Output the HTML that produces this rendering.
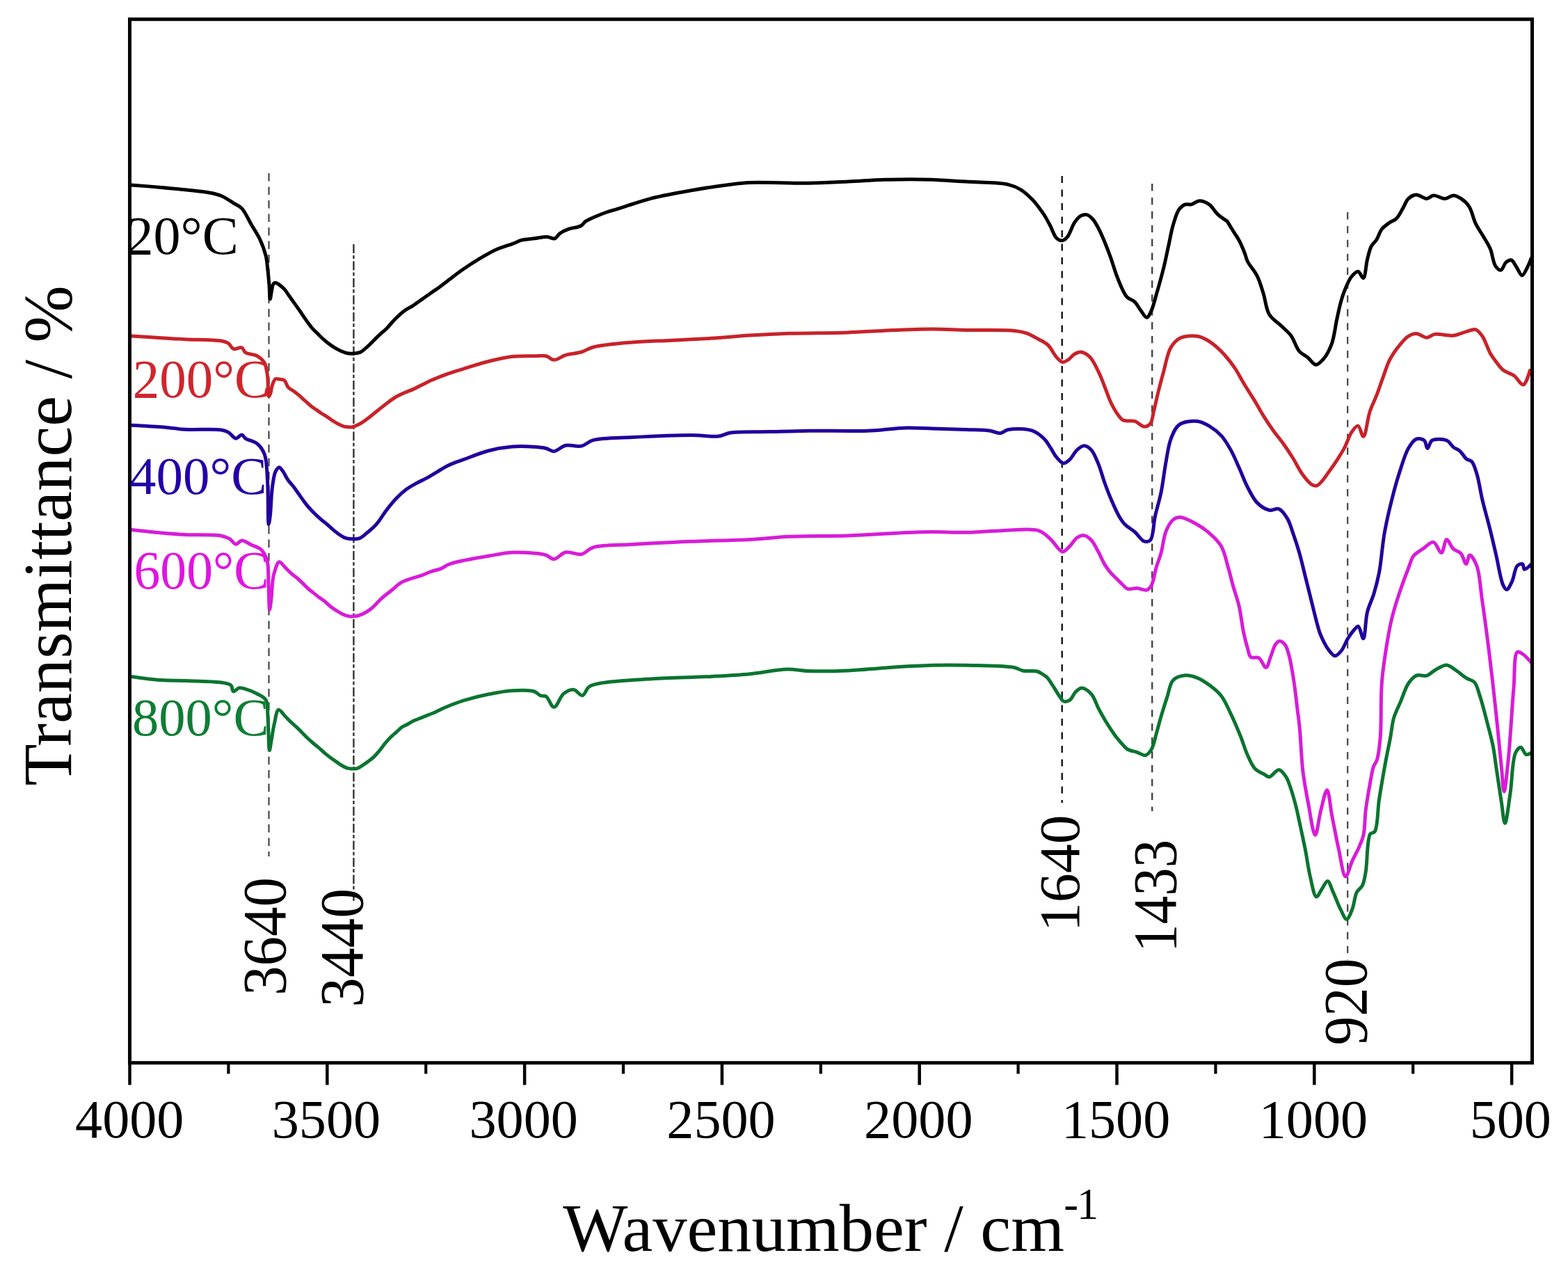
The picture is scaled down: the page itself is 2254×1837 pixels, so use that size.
<!DOCTYPE html>
<html><head><meta charset="utf-8"><title>FTIR spectra</title>
<style>html,body{margin:0;padding:0;background:#fff;} svg{display:block;}</style>
</head><body>
<svg width="2254" height="1837" viewBox="0 0 2254 1837">
<rect x="0" y="0" width="2254" height="1837" fill="#ffffff"/>
<line x1="386.5" y1="249" x2="386.5" y2="1231" stroke="#444" stroke-width="2.2" stroke-dasharray="11.5 8"/>
<line x1="508.4" y1="351" x2="508.4" y2="1296" stroke="#333" stroke-width="2.4" stroke-dasharray="13 3 5 3.5"/>
<line x1="1526.7" y1="253" x2="1526.7" y2="1154" stroke="#111" stroke-width="2.4" stroke-dasharray="10 9.5"/>
<line x1="1656.2" y1="264" x2="1656.2" y2="1166" stroke="#444" stroke-width="2.4" stroke-dasharray="10.4 9.5"/>
<line x1="1937.2" y1="305" x2="1937.2" y2="1380" stroke="#444" stroke-width="2.2" stroke-dasharray="10.4 9.5"/>
<path d="M188.6,265.9 C188.6,265.9 218.2,268.2 231.8,269.4 C244.0,270.5 254.9,271.5 266.4,272.8 C277.9,274.1 291.5,275.2 301.0,277.0 C307.7,278.3 312.4,279.2 318.0,281.5 C324.0,284.0 330.2,288.6 335.5,291.8 C339.9,294.5 343.9,295.7 347.6,299.6 C352.7,305.0 357.0,315.4 361.4,323.0 C365.6,330.1 370.1,336.4 373.5,343.7 C377.0,351.3 380.3,360.2 382.2,367.9 C383.8,374.5 384.0,380.2 384.8,386.9 C385.6,394.2 386.4,402.6 387.0,410.0 C387.6,416.9 387.6,430.0 388.3,430.0 C388.9,430.0 389.7,421.8 390.5,418.0 C391.3,414.5 391.6,409.8 393.0,408.0 C393.8,407.0 394.7,406.4 396.0,406.5 C398.8,406.7 405.6,412.4 408.8,415.7 C411.4,418.3 412.7,421.1 414.6,423.8 C416.5,426.5 418.4,429.1 420.3,431.8 C422.2,434.5 424.2,437.2 426.1,439.9 C428.0,442.6 429.9,445.2 431.8,448.0 C433.7,450.8 435.6,453.8 437.6,456.6 C439.5,459.4 441.5,462.1 443.4,464.7 C445.3,467.3 447.1,469.9 449.1,472.2 C451.0,474.3 452.9,475.9 454.9,477.9 C457.2,480.1 459.6,482.8 462.0,485.0 C464.3,487.2 466.3,489.0 469.1,491.2 C472.9,494.2 478.2,498.2 482.9,500.9 C487.4,503.5 492.7,505.9 496.8,507.1 C499.8,508.0 502.0,508.3 505.0,508.3 C508.8,508.3 513.7,508.1 517.7,506.4 C522.2,504.4 526.2,500.0 530.3,496.3 C534.6,492.4 538.7,487.7 543.0,483.6 C547.2,479.6 551.6,476.3 555.7,472.2 C560.0,467.9 564.0,462.6 568.3,458.3 C572.4,454.2 576.6,450.1 581.0,446.9 C585.1,443.9 589.5,442.0 593.7,439.3 C598.0,436.5 602.2,433.4 606.4,430.4 C610.6,427.4 614.8,424.4 619.0,421.5 C623.2,418.5 627.5,415.8 631.7,412.7 C636.1,409.5 640.1,406.2 645.0,402.5 C650.8,398.1 657.5,392.8 664.4,388.0 C672.0,382.7 680.6,377.0 688.8,372.1 C696.9,367.3 705.0,362.4 713.3,358.7 C721.3,355.1 731.0,352.6 737.7,350.1 C742.5,348.3 745.3,346.4 749.9,345.2 C755.3,343.8 762.1,343.6 768.2,342.8 C774.3,342.0 781.2,340.2 786.5,340.4 C790.6,340.6 794.4,343.7 797.5,342.8 C800.5,341.9 801.9,337.6 804.8,335.5 C808.2,333.1 812.4,331.1 817.0,329.4 C822.4,327.4 831.1,327.0 835.4,324.5 C838.3,322.8 838.9,320.2 841.5,318.4 C844.7,316.1 849.2,314.3 853.7,312.3 C859.1,309.9 866.5,306.9 872.0,305.0 C876.4,303.4 879.9,302.6 884.2,301.3 C889.1,299.8 893.6,298.4 900.0,296.4 C909.8,293.4 923.4,288.4 937.2,284.9 C953.9,280.7 974.7,277.0 993.5,273.7 C1012.3,270.4 1034.3,267.1 1049.9,265.2 C1060.9,263.8 1066.1,262.9 1078.0,262.4 C1098.6,261.5 1137.2,263.6 1162.5,263.2 C1183.2,262.9 1200.1,261.8 1218.9,261.0 C1237.7,260.2 1255.8,258.7 1275.2,258.2 C1296.0,257.7 1326.1,257.8 1340.0,258.2 C1346.6,258.4 1348.7,258.7 1354.6,259.0 C1363.6,259.5 1377.5,260.5 1389.0,261.1 C1400.5,261.7 1413.0,261.7 1423.7,262.5 C1433.0,263.2 1441.9,263.5 1449.6,265.4 C1456.1,267.0 1461.4,269.0 1466.9,272.3 C1473.0,276.0 1479.6,282.3 1484.2,287.0 C1487.8,290.6 1490.0,293.7 1492.8,297.4 C1495.7,301.2 1498.6,305.1 1501.4,309.5 C1504.4,314.3 1507.2,319.7 1510.0,325.0 C1512.9,330.6 1515.2,338.9 1518.7,342.3 C1521.0,344.5 1524.0,346.0 1526.5,345.8 C1529.2,345.6 1531.9,343.4 1534.3,340.6 C1538.1,336.3 1540.9,325.3 1544.6,319.9 C1547.4,315.9 1550.1,312.2 1553.3,310.4 C1556.0,308.9 1559.2,308.0 1562.0,308.6 C1565.0,309.2 1568.0,311.9 1570.6,314.7 C1573.9,318.2 1576.5,323.4 1579.2,328.5 C1582.3,334.2 1585.0,340.9 1587.8,347.5 C1590.8,354.6 1593.7,362.2 1596.5,370.0 C1599.5,378.3 1602.1,387.8 1605.1,395.9 C1607.9,403.2 1610.9,411.0 1613.8,416.6 C1615.9,420.7 1617.2,424.1 1620.0,427.0 C1622.9,430.0 1627.9,430.9 1631.1,433.9 C1634.5,437.1 1636.7,442.2 1639.7,446.0 C1642.5,449.7 1645.8,456.5 1648.4,456.4 C1650.9,456.3 1653.3,450.3 1655.3,446.0 C1658.1,440.1 1659.7,432.0 1662.2,423.5 C1665.4,412.5 1669.6,397.6 1672.6,385.5 C1675.3,374.6 1677.2,364.8 1679.5,354.4 C1681.8,344.0 1683.6,332.7 1686.4,323.3 C1688.9,315.1 1691.3,305.9 1695.0,300.8 C1697.5,297.4 1700.6,295.0 1703.7,293.9 C1706.4,293.0 1709.3,294.5 1712.3,293.9 C1716.1,293.1 1720.2,288.9 1724.4,288.8 C1728.8,288.7 1734.1,291.0 1738.2,293.9 C1742.8,297.1 1745.9,303.7 1750.3,307.8 C1754.6,311.8 1764.2,318.1 1764.2,318.1 C1764.2,318.1 1764.2,318.1 1764.2,318.1 C1764.2,318.1 1768.8,325.8 1771.4,330.0 C1774.4,334.9 1778.4,340.4 1781.4,346.0 C1784.4,351.7 1787.2,358.6 1789.3,364.0 C1791.0,368.4 1791.3,371.6 1793.5,376.0 C1796.5,382.1 1803.3,389.0 1807.0,396.4 C1810.9,404.1 1813.2,412.6 1816.0,421.4 C1819.1,431.0 1819.7,443.9 1824.6,452.0 C1828.8,459.1 1836.5,463.2 1841.9,468.5 C1846.8,473.3 1851.6,476.8 1855.7,482.3 C1860.4,488.6 1863.1,499.5 1867.8,505.0 C1871.4,509.2 1876.1,510.8 1880.0,514.0 C1883.9,517.2 1887.5,524.0 1891.4,524.2 C1895.1,524.4 1899.4,519.6 1902.8,515.6 C1907.2,510.5 1911.2,502.9 1914.2,494.7 C1918.0,484.5 1919.4,469.5 1921.8,458.6 C1923.8,449.6 1925.4,441.3 1927.5,433.9 C1929.3,427.6 1930.8,422.6 1933.2,416.8 C1935.8,410.5 1939.0,402.4 1942.7,397.8 C1945.5,394.3 1949.4,389.9 1952.2,390.2 C1955.0,390.5 1957.8,400.2 1959.8,399.7 C1962.8,399.0 1963.4,381.1 1965.5,373.0 C1967.3,366.1 1968.6,359.0 1971.2,354.0 C1973.3,350.0 1976.4,348.2 1978.8,344.5 C1981.6,340.2 1983.1,333.5 1986.4,329.3 C1989.5,325.4 1994.1,322.4 1997.8,319.8 C2001.0,317.5 2004.5,316.9 2007.4,314.1 C2011.1,310.5 2014.0,303.8 2016.9,298.9 C2019.6,294.3 2021.1,288.8 2024.5,285.6 C2027.6,282.7 2031.8,280.1 2035.9,279.9 C2040.6,279.7 2046.7,285.8 2051.1,285.6 C2054.7,285.4 2056.9,281.3 2060.6,280.9 C2065.4,280.4 2072.6,285.9 2077.7,285.6 C2081.9,285.3 2085.3,280.9 2089.1,280.9 C2092.9,280.9 2096.9,283.2 2100.5,285.6 C2104.6,288.3 2108.7,292.0 2111.9,297.0 C2116.0,303.3 2117.7,314.2 2121.4,321.7 C2124.8,328.6 2129.2,334.5 2132.8,340.7 C2136.2,346.5 2139.6,351.4 2142.3,357.8 C2145.4,365.2 2146.3,377.5 2149.9,382.6 C2152.1,385.7 2155.2,388.7 2157.5,388.3 C2160.3,387.8 2162.1,379.3 2165.1,376.9 C2167.4,375.1 2170.4,373.3 2172.7,374.0 C2175.6,374.9 2177.8,380.9 2180.3,384.5 C2182.9,388.2 2185.4,395.9 2187.9,395.9 C2190.4,395.9 2193.3,388.6 2195.5,384.5 C2197.8,380.3 2201.2,371.2 2201.2,371.2" fill="none" stroke="#000000" stroke-width="5.0" stroke-linejoin="round" stroke-linecap="round"/>
<path d="M188.6,483.0 C188.6,483.0 218.2,484.9 231.8,485.7 C244.0,486.4 253.7,487.1 266.4,487.7 C281.9,488.5 307.6,487.9 318.2,490.0 C323.1,491.0 325.7,491.7 328.6,493.7 C331.4,495.6 332.5,500.4 335.5,501.5 C338.7,502.7 344.6,498.5 347.6,499.7 C350.1,500.7 350.1,504.8 352.8,506.7 C356.6,509.4 365.3,509.0 370.0,511.8 C374.3,514.3 378.0,517.7 380.4,522.0 C383.1,526.8 383.5,533.2 384.5,540.0 C385.8,548.7 384.9,569.7 386.5,570.0 C387.2,570.1 388.3,567.0 389.0,565.0 C389.9,562.3 389.9,558.3 391.0,555.0 C392.2,551.5 393.8,546.0 396.0,544.7 C397.4,543.9 399.2,544.8 401.0,545.0 C403.3,545.3 406.4,545.0 408.5,546.5 C411.1,548.3 411.8,553.9 414.2,556.6 C416.4,559.1 419.6,560.3 422.3,562.3 C425.0,564.3 427.7,566.5 430.3,568.7 C433.0,571.0 435.7,573.6 438.4,576.0 C441.1,578.4 443.7,581.0 446.5,583.2 C449.1,585.3 451.8,587.0 454.5,588.9 C457.2,590.8 459.9,592.7 462.6,594.5 C465.3,596.2 467.9,597.7 470.6,599.4 C473.3,601.2 476.0,603.2 478.7,605.0 C481.4,606.7 484.1,608.4 486.8,609.8 C489.4,611.1 492.1,612.4 494.8,613.1 C497.4,613.8 501.1,613.7 502.9,613.9 C503.8,614.0 504.0,614.2 505.0,614.1 C507.5,613.7 513.6,611.2 517.7,609.0 C522.0,606.6 526.1,603.3 530.3,600.2 C534.6,597.0 538.8,593.4 543.0,590.0 C547.2,586.6 551.4,583.1 555.7,579.9 C559.9,576.8 564.0,573.6 568.3,571.0 C572.4,568.5 576.7,566.6 581.0,564.7 C585.2,562.8 589.5,561.5 593.7,559.6 C598.0,557.7 602.2,555.4 606.4,553.3 C610.6,551.2 614.8,548.9 619.0,547.0 C623.2,545.1 627.4,543.6 631.7,541.9 C636.1,540.2 640.0,538.6 645.0,536.8 C651.5,534.6 659.1,532.3 667.4,529.8 C677.7,526.7 690.3,522.4 701.9,519.5 C713.4,516.6 725.2,513.8 736.5,512.5 C747.2,511.3 759.3,511.8 768.2,511.7 C774.7,511.6 780.1,510.5 785.0,511.7 C789.3,512.7 792.1,517.2 796.3,517.3 C801.3,517.5 807.1,512.1 813.2,510.3 C820.1,508.2 828.9,508.1 835.8,506.0 C841.9,504.2 845.2,501.0 852.7,499.0 C865.8,495.5 890.2,493.6 909.0,492.0 C927.8,490.4 946.6,490.2 965.4,489.2 C984.2,488.3 1002.9,487.5 1021.7,486.3 C1040.5,485.1 1059.2,483.3 1078.0,482.1 C1096.8,480.9 1113.7,480.0 1134.4,479.3 C1159.7,478.5 1193.6,478.8 1218.9,477.9 C1239.6,477.2 1255.8,475.8 1275.2,475.0 C1296.0,474.1 1319.9,473.0 1340.0,473.0 C1357.5,473.0 1371.3,474.1 1389.0,474.5 C1410.1,475.0 1442.9,473.8 1458.2,475.4 C1465.9,476.2 1469.9,476.9 1475.5,478.8 C1481.4,480.8 1487.4,484.5 1492.8,487.5 C1497.7,490.3 1502.5,492.2 1506.6,496.1 C1511.3,500.5 1514.7,509.1 1518.7,513.4 C1521.6,516.5 1524.4,520.1 1527.4,520.5 C1530.2,520.9 1533.3,518.6 1536.0,516.8 C1539.0,514.8 1541.4,510.8 1544.6,509.0 C1547.7,507.3 1551.5,505.7 1555.0,506.2 C1559.0,506.8 1563.4,509.9 1567.0,513.6 C1571.7,518.5 1575.7,527.5 1579.2,534.6 C1582.6,541.4 1585.0,548.2 1587.8,555.3 C1590.7,562.6 1593.4,571.1 1596.5,577.8 C1599.2,583.5 1602.0,588.8 1605.1,593.3 C1607.8,597.3 1610.8,601.9 1613.8,603.7 C1615.8,604.9 1617.6,604.7 1620.0,605.0 C1623.2,605.4 1627.3,604.3 1631.1,605.4 C1635.6,606.7 1640.8,613.1 1644.9,613.2 C1648.1,613.3 1651.4,611.6 1653.6,608.9 C1656.7,605.1 1657.0,596.9 1658.8,589.9 C1661.0,581.2 1663.3,570.0 1665.7,560.5 C1667.9,551.6 1670.0,543.9 1672.6,534.6 C1675.6,523.8 1677.9,508.2 1683.0,499.6 C1686.7,493.3 1691.0,488.5 1696.8,485.7 C1703.3,482.6 1714.3,482.3 1721.0,483.2 C1726.0,483.8 1729.6,485.8 1733.8,488.0 C1738.5,490.5 1743.2,494.0 1747.7,497.7 C1752.5,501.7 1757.1,506.4 1761.5,511.5 C1766.3,516.9 1770.9,522.9 1775.3,529.4 C1780.1,536.6 1784.4,545.3 1789.1,553.0 C1793.7,560.5 1798.4,567.6 1803.0,575.1 C1807.7,582.8 1812.1,591.1 1816.8,598.6 C1821.3,605.8 1825.9,612.7 1830.6,619.3 C1835.1,625.6 1839.9,631.0 1844.4,637.3 C1849.1,643.9 1853.8,650.8 1858.3,658.0 C1863.0,665.5 1867.1,674.7 1872.1,681.5 C1876.4,687.4 1881.7,694.3 1885.9,696.7 C1888.3,698.1 1890.6,698.7 1892.8,698.1 C1895.3,697.4 1897.6,694.5 1900.0,692.0 C1902.9,688.9 1905.4,684.9 1908.5,680.6 C1912.5,675.1 1917.6,668.0 1921.8,661.6 C1925.9,655.3 1929.7,649.2 1933.2,642.6 C1936.7,635.9 1939.0,627.0 1942.7,621.6 C1945.5,617.5 1949.5,611.7 1952.2,612.1 C1955.3,612.6 1957.4,627.6 1959.8,627.4 C1963.3,627.0 1965.7,601.8 1969.3,591.2 C1972.2,582.6 1975.7,576.3 1978.8,568.4 C1982.1,559.9 1985.1,550.5 1988.3,541.8 C1991.4,533.4 1993.7,524.8 1997.8,517.0 C2001.9,509.1 2008.1,500.7 2013.1,494.7 C2017.0,490.1 2020.4,485.8 2024.5,483.3 C2028.1,481.1 2031.8,479.4 2035.9,479.5 C2040.6,479.6 2046.4,485.3 2051.1,485.2 C2055.2,485.1 2057.8,481.2 2062.5,480.4 C2069.4,479.3 2081.1,483.2 2089.1,482.3 C2096.0,481.5 2102.3,478.1 2108.1,476.6 C2112.9,475.4 2117.6,472.7 2121.4,473.8 C2125.2,474.9 2127.9,479.1 2130.9,483.3 C2135.1,489.3 2138.6,501.5 2142.3,508.0 C2144.9,512.5 2147.0,515.2 2149.9,519.0 C2153.2,523.3 2156.8,528.8 2161.3,532.3 C2165.7,535.8 2171.8,536.7 2176.5,540.0 C2181.4,543.5 2186.1,553.7 2189.8,553.0 C2193.9,552.3 2199.3,532.5 2199.3,532.5" fill="none" stroke="#c8222a" stroke-width="5.0" stroke-linejoin="round" stroke-linecap="round"/>
<path d="M188.6,611.2 C188.6,611.2 218.2,612.7 231.8,613.8 C244.0,614.8 253.7,616.5 266.4,617.2 C281.9,618.1 307.6,616.1 318.2,618.0 C323.1,618.9 325.3,619.7 328.6,621.6 C332.3,623.7 335.6,630.0 339.0,630.2 C341.9,630.4 345.2,624.7 347.6,625.0 C349.7,625.3 350.4,628.5 352.8,630.2 C356.7,632.9 365.4,634.1 370.0,638.0 C374.6,641.9 378.0,646.9 380.4,653.5 C383.8,662.8 383.5,676.1 384.5,690.0 C385.8,708.3 384.9,753.7 386.2,753.8 C386.8,753.8 387.9,745.5 388.5,740.0 C389.4,731.9 389.7,718.6 390.5,710.0 C391.1,703.5 391.5,698.5 392.5,693.0 C393.4,687.8 394.1,681.7 396.0,678.0 C397.4,675.3 399.5,671.9 401.3,671.8 C402.9,671.7 404.4,674.5 406.1,676.6 C408.6,679.9 411.3,686.2 414.2,690.3 C416.8,693.9 419.7,696.6 422.3,700.0 C425.0,703.6 427.6,707.5 430.3,711.3 C433.0,715.1 435.6,719.0 438.4,722.6 C441.0,726.0 443.7,729.3 446.5,732.3 C449.1,735.2 451.8,737.7 454.5,740.3 C457.2,742.8 459.9,745.3 462.6,747.6 C465.2,749.8 468.0,751.8 470.6,754.0 C473.3,756.3 476.0,759.0 478.7,761.3 C481.4,763.5 484.1,765.8 486.8,767.7 C489.4,769.5 492.0,771.4 494.8,772.6 C497.4,773.7 501.1,774.4 502.9,774.6 C503.8,774.7 504.0,774.6 505.0,774.6 C507.3,774.5 513.0,775.2 516.5,773.9 C520.2,772.6 523.0,769.6 526.6,766.7 C531.1,763.1 536.5,758.8 541.0,753.7 C546.1,747.9 550.5,739.9 555.4,733.5 C560.1,727.4 564.8,721.5 569.8,716.3 C574.4,711.5 579.2,707.0 584.2,703.3 C588.8,699.9 593.7,697.3 598.6,694.6 C603.3,692.0 608.2,690.0 613.0,687.4 C617.9,684.7 622.3,681.8 627.4,678.8 C633.0,675.5 638.7,671.7 645.0,668.7 C651.9,665.4 659.1,663.2 667.4,660.2 C677.6,656.4 690.3,651.0 701.9,648.0 C713.3,645.0 725.2,642.9 736.5,642.0 C747.3,641.1 759.3,641.7 768.2,642.3 C774.7,642.8 780.0,643.3 785.0,644.5 C789.2,645.5 792.2,648.9 796.3,648.7 C801.4,648.4 807.0,641.6 813.2,640.3 C820.0,638.8 829.0,642.6 835.8,641.1 C842.0,639.8 845.2,634.8 852.7,632.7 C865.7,629.1 888.3,629.7 909.0,628.5 C934.3,627.1 970.6,625.4 993.5,625.4 C1009.1,625.4 1022.7,628.3 1033.0,627.0 C1039.9,626.1 1042.5,623.2 1049.9,622.0 C1063.1,619.9 1087.4,621.1 1106.2,620.6 C1125.0,620.1 1141.8,619.5 1162.5,619.2 C1187.8,618.9 1221.7,620.1 1247.0,619.2 C1267.7,618.4 1286.6,615.4 1303.4,615.0 C1316.9,614.7 1326.9,615.6 1340.0,616.0 C1355.1,616.4 1374.1,616.9 1389.0,617.5 C1401.6,618.0 1414.8,617.9 1423.7,619.2 C1429.4,620.1 1433.1,623.0 1437.5,622.7 C1441.7,622.4 1444.4,618.4 1449.6,617.5 C1458.0,616.0 1475.0,616.0 1484.2,619.2 C1491.4,621.7 1496.9,626.8 1501.4,631.3 C1505.2,635.0 1507.2,639.2 1510.0,643.4 C1513.0,647.8 1515.3,653.3 1518.7,657.2 C1521.8,660.7 1525.6,665.6 1529.0,665.9 C1531.9,666.1 1534.9,663.2 1537.7,660.7 C1541.3,657.4 1544.3,650.3 1548.1,646.9 C1551.3,644.0 1555.0,640.8 1558.5,640.8 C1561.9,640.8 1565.8,643.6 1568.8,646.9 C1573.0,651.4 1576.1,660.2 1579.2,667.6 C1582.5,675.6 1584.8,685.2 1587.8,693.5 C1590.6,701.3 1593.2,708.3 1596.5,716.0 C1600.1,724.4 1604.6,735.0 1608.6,741.9 C1611.5,746.9 1613.7,750.4 1617.3,754.0 C1621.1,757.9 1626.6,760.5 1631.1,764.4 C1635.8,768.5 1640.5,776.9 1644.9,778.2 C1647.9,779.1 1651.3,778.8 1653.6,776.5 C1658.2,771.9 1657.9,753.4 1660.5,741.9 C1663.1,730.4 1666.6,719.6 1669.1,707.4 C1671.9,693.9 1673.5,677.6 1676.0,664.2 C1678.2,652.5 1679.4,640.8 1683.0,631.3 C1686.1,623.3 1688.9,614.9 1695.0,610.6 C1701.4,606.0 1713.3,604.7 1721.0,605.4 C1727.4,606.0 1732.7,609.1 1738.2,612.3 C1744.2,615.8 1750.4,620.6 1755.5,626.1 C1760.9,632.0 1765.1,639.4 1769.3,646.9 C1773.8,654.9 1777.4,664.0 1781.4,672.8 C1785.5,681.9 1789.0,691.9 1793.5,700.5 C1797.7,708.5 1801.7,717.3 1807.4,722.9 C1812.3,727.8 1819.0,732.1 1824.6,733.3 C1829.3,734.3 1834.4,730.0 1838.5,731.6 C1843.2,733.4 1847.3,739.9 1850.6,745.4 C1854.4,751.7 1856.4,760.0 1859.2,767.8 C1862.2,776.3 1865.1,785.1 1867.8,794.6 C1870.9,805.3 1873.6,817.6 1876.5,829.1 C1879.4,840.6 1882.2,852.2 1885.1,863.7 C1888.0,875.2 1891.3,889.3 1893.8,898.2 C1895.4,904.0 1896.1,907.2 1898.2,912.3 C1901.0,918.9 1905.7,928.7 1909.8,934.1 C1912.7,938.0 1915.9,942.7 1919.0,942.8 C1922.0,942.9 1925.4,938.7 1928.2,935.3 C1931.8,931.0 1934.1,923.2 1937.4,918.0 C1940.3,913.3 1943.7,908.5 1946.6,905.3 C1948.6,903.1 1950.6,899.8 1952.4,900.2 C1955.2,900.8 1957.8,918.1 1959.8,917.8 C1962.6,917.4 1962.6,891.2 1965.5,879.8 C1968.0,870.0 1972.2,862.4 1975.0,853.2 C1977.9,843.5 1980.3,834.6 1982.6,822.8 C1985.6,806.9 1986.9,784.5 1990.2,766.1 C1993.3,748.5 1997.5,730.8 2001.6,714.8 C2005.2,700.6 2009.0,687.2 2013.1,674.9 C2016.7,664.0 2019.9,652.3 2024.5,644.5 C2027.9,638.8 2031.6,632.8 2035.9,631.2 C2039.4,629.9 2044.6,630.9 2047.3,633.0 C2050.1,635.2 2050.1,644.4 2052.0,644.5 C2053.9,644.6 2055.0,635.1 2058.7,633.0 C2063.3,630.3 2074.3,630.8 2079.6,633.0 C2083.9,634.8 2085.8,640.0 2089.1,642.6 C2092.1,645.0 2095.6,645.8 2098.6,648.3 C2102.0,651.2 2104.8,657.1 2108.1,659.7 C2110.6,661.7 2113.5,661.1 2115.7,663.5 C2119.1,667.2 2121.0,675.0 2123.3,682.5 C2126.3,692.5 2127.9,706.0 2130.9,718.6 C2134.2,732.5 2138.9,748.4 2142.3,762.3 C2145.4,774.8 2147.8,785.5 2150.7,798.0 C2153.9,811.7 2157.0,833.3 2160.8,841.1 C2162.4,844.4 2164.1,847.6 2165.9,847.5 C2168.2,847.4 2171.2,840.7 2173.5,836.0 C2176.5,829.8 2177.4,816.9 2181.1,813.2 C2183.2,811.1 2187.0,809.9 2188.7,810.7 C2190.4,811.5 2189.6,817.8 2191.3,818.3 C2193.4,818.9 2201.4,810.7 2201.4,810.7" fill="none" stroke="#22009c" stroke-width="5.0" stroke-linejoin="round" stroke-linecap="round"/>
<path d="M188.6,761.6 C188.6,761.6 218.2,764.8 231.8,766.0 C244.0,767.1 253.7,767.8 266.4,768.5 C281.9,769.3 307.1,768.0 318.2,770.2 C323.8,771.3 326.8,772.5 330.3,774.6 C333.7,776.6 336.0,782.0 339.0,782.3 C341.8,782.5 344.3,777.2 347.6,777.0 C351.6,776.7 356.8,781.0 361.4,783.2 C366.0,785.4 371.6,786.5 375.3,790.0 C379.3,793.8 382.1,799.2 384.0,805.7 C386.6,814.7 385.4,828.4 386.0,840.0 C386.6,852.0 386.7,876.5 387.6,876.5 C388.2,876.5 389.3,866.1 390.0,860.0 C390.8,852.5 391.1,841.8 392.0,835.0 C392.6,830.3 393.0,827.2 394.3,823.0 C395.9,818.1 398.3,808.3 401.3,807.7 C403.8,807.2 407.3,813.1 410.2,815.8 C413.0,818.5 415.4,821.4 418.2,823.9 C420.8,826.2 423.6,828.1 426.3,830.3 C429.0,832.6 431.7,835.1 434.4,837.6 C437.1,840.2 439.7,843.1 442.4,845.6 C445.0,848.0 447.8,849.9 450.5,852.1 C453.2,854.2 455.8,856.5 458.5,858.5 C461.2,860.5 464.0,862.1 466.6,864.2 C469.4,866.4 471.9,869.3 474.7,871.5 C477.3,873.6 480.0,875.4 482.7,877.1 C485.4,878.8 488.0,880.5 490.8,881.9 C493.5,883.2 496.4,884.5 498.9,885.2 C501.0,885.8 502.5,886.2 505.0,886.2 C508.8,886.1 514.7,885.1 519.4,883.3 C524.4,881.4 529.2,878.3 533.8,874.7 C538.9,870.8 543.3,864.7 548.2,860.3 C552.9,856.1 557.8,852.6 562.6,848.8 C567.4,844.9 572.0,840.1 577.0,837.2 C581.6,834.5 586.6,833.2 591.4,831.5 C596.2,829.8 601.0,828.9 605.8,827.2 C610.6,825.5 615.4,823.1 620.2,821.4 C625.0,819.7 630.3,818.9 634.6,817.1 C638.4,815.5 640.7,813.0 645.0,811.3 C650.9,808.9 659.1,807.2 667.4,805.4 C677.6,803.2 690.4,801.2 701.9,799.3 C713.4,797.4 725.2,794.7 736.5,794.1 C747.3,793.5 759.3,794.3 768.2,795.2 C774.7,795.9 780.1,796.4 785.0,798.0 C789.3,799.4 792.2,803.8 796.3,803.7 C801.4,803.5 806.9,795.1 813.2,793.8 C820.0,792.4 829.0,798.0 835.8,796.6 C842.1,795.3 845.1,789.2 852.7,786.8 C865.7,782.8 888.3,783.8 909.0,782.5 C934.3,780.9 965.3,779.5 993.5,778.3 C1021.7,777.1 1052.7,776.9 1078.0,775.5 C1098.7,774.4 1113.7,772.2 1134.4,771.3 C1159.7,770.1 1190.7,770.8 1218.9,769.9 C1247.1,769.0 1281.0,766.5 1303.4,765.6 C1318.1,765.0 1326.9,764.6 1340.0,764.5 C1355.1,764.4 1372.4,765.6 1389.0,765.3 C1406.1,765.0 1423.7,763.1 1441.0,762.7 C1458.3,762.3 1480.6,758.8 1492.8,762.7 C1500.6,765.2 1504.5,770.0 1510.0,774.8 C1516.0,780.0 1522.2,792.6 1527.4,793.0 C1531.1,793.3 1534.4,788.2 1537.7,785.1 C1541.3,781.7 1544.2,775.6 1548.1,773.0 C1551.3,770.9 1555.2,769.1 1558.5,769.6 C1562.1,770.1 1565.7,773.2 1568.8,776.5 C1572.8,780.7 1576.0,788.0 1579.2,793.8 C1582.3,799.5 1584.7,806.0 1587.8,811.1 C1590.5,815.6 1593.5,819.6 1596.5,823.2 C1599.2,826.4 1602.2,828.9 1605.1,831.8 C1608.0,834.7 1611.0,837.9 1613.8,840.5 C1616.2,842.7 1617.8,845.4 1620.7,846.4 C1624.3,847.6 1630.0,845.2 1634.6,845.5 C1639.2,845.8 1644.8,849.2 1648.4,848.1 C1651.4,847.2 1653.3,844.6 1655.3,841.2 C1658.5,835.6 1659.8,823.4 1662.2,815.3 C1664.4,808.0 1667.0,802.2 1669.1,794.6 C1671.6,785.5 1672.6,772.5 1676.0,764.0 C1678.7,757.3 1682.2,750.4 1686.4,747.1 C1689.5,744.6 1692.7,743.4 1696.8,743.6 C1703.2,743.9 1713.8,750.0 1721.0,754.0 C1727.4,757.6 1732.7,761.3 1738.2,766.1 C1744.3,771.4 1751.0,777.4 1755.5,785.1 C1760.6,793.9 1762.9,806.9 1765.9,817.0 C1768.6,826.1 1770.3,834.1 1772.8,843.0 C1775.5,852.5 1779.0,861.9 1781.4,872.3 C1784.0,883.7 1785.3,898.1 1787.6,908.8 C1789.4,917.4 1791.4,925.3 1793.4,931.8 C1794.9,936.7 1795.1,942.2 1798.0,944.5 C1800.7,946.6 1806.1,943.8 1809.5,945.7 C1813.6,948.0 1817.0,959.8 1819.9,959.5 C1822.8,959.1 1824.5,948.9 1826.8,943.4 C1829.1,937.8 1830.9,929.8 1833.7,926.1 C1835.4,923.8 1837.4,921.6 1839.5,921.5 C1842.0,921.4 1845.4,924.4 1847.6,927.2 C1850.4,931.0 1851.7,937.5 1853.3,943.4 C1855.2,950.3 1856.5,958.7 1857.9,966.4 C1859.2,974.1 1860.3,981.3 1861.4,989.4 C1862.6,998.5 1863.7,1008.6 1864.8,1018.2 C1866.0,1027.8 1867.2,1035.6 1868.3,1047.0 C1869.9,1063.6 1870.6,1089.2 1872.9,1108.4 C1875.0,1125.5 1878.0,1141.1 1881.0,1156.8 C1883.9,1171.7 1887.5,1200.3 1890.6,1200.3 C1893.4,1200.3 1895.7,1176.0 1898.7,1164.8 C1901.4,1154.6 1905.0,1135.7 1907.6,1135.8 C1910.5,1136.0 1912.2,1159.7 1914.8,1172.9 C1917.8,1188.0 1921.1,1206.1 1924.5,1221.3 C1927.6,1235.0 1930.5,1259.7 1934.2,1260.0 C1937.1,1260.2 1940.6,1244.6 1943.9,1237.4 C1947.0,1230.6 1950.8,1224.4 1953.5,1218.0 C1956.1,1212.0 1958.4,1207.3 1960.0,1200.3 C1962.2,1190.6 1961.7,1177.0 1963.2,1164.8 C1964.8,1151.8 1967.6,1136.0 1969.7,1124.5 C1971.3,1115.9 1972.4,1107.7 1974.5,1101.9 C1975.9,1097.9 1978.0,1096.6 1979.4,1092.3 C1981.8,1084.8 1983.0,1073.2 1984.2,1060.0 C1986.0,1039.4 1984.5,1004.8 1986.4,980.6 C1988.1,960.0 1991.2,940.6 1994.0,923.5 C1996.3,909.5 1998.4,898.0 2001.6,885.5 C2004.8,872.9 2009.1,859.9 2013.1,848.0 C2016.8,837.1 2021.0,825.9 2024.5,817.0 C2027.2,810.2 2028.3,803.8 2032.0,799.0 C2035.4,794.6 2040.7,792.1 2045.4,788.9 C2050.2,785.6 2056.2,778.6 2060.6,779.4 C2065.1,780.2 2068.9,795.0 2072.0,794.6 C2075.3,794.2 2076.5,776.0 2079.6,775.6 C2082.3,775.3 2085.4,785.5 2089.1,788.9 C2092.3,791.9 2097.0,792.3 2100.0,795.5 C2103.4,799.2 2105.4,810.8 2107.6,810.7 C2109.6,810.6 2110.4,798.2 2112.7,798.0 C2115.3,797.7 2120.1,806.3 2122.8,813.2 C2127.2,824.4 2127.8,843.5 2130.4,861.4 C2133.7,883.8 2137.3,911.1 2140.6,937.4 C2144.1,965.8 2147.7,997.7 2150.7,1026.2 C2153.5,1052.5 2156.2,1081.6 2158.3,1102.2 C2159.8,1116.3 2160.6,1137.7 2162.1,1137.7 C2163.9,1137.7 2166.4,1108.6 2168.4,1089.5 C2171.2,1061.9 2173.5,1016.1 2176.0,988.1 C2177.7,968.3 2176.0,940.6 2181.1,937.4 C2183.1,936.1 2186.0,938.4 2188.7,940.0 C2192.7,942.5 2201.4,952.6 2201.4,952.6" fill="none" stroke="#d81cd8" stroke-width="5.0" stroke-linejoin="round" stroke-linecap="round"/>
<path d="M188.6,972.4 C188.6,972.4 218.2,976.6 231.8,977.6 C244.0,978.5 253.7,978.0 266.4,978.5 C281.9,979.1 306.5,979.1 318.2,981.0 C324.3,982.0 329.1,982.4 332.0,985.0 C334.3,987.1 333.5,993.1 335.5,993.8 C337.5,994.5 341.0,989.3 344.0,988.8 C346.8,988.3 349.4,989.4 352.8,990.4 C357.6,991.8 364.9,994.7 370.0,997.5 C374.6,1000.0 379.6,1001.7 382.2,1006.0 C385.5,1011.5 384.2,1020.6 385.0,1030.0 C386.1,1043.3 386.1,1078.4 387.4,1078.5 C388.1,1078.6 389.0,1070.2 390.0,1065.0 C391.3,1058.0 392.4,1048.2 394.3,1040.5 C396.0,1033.4 397.3,1021.0 400.5,1020.2 C403.0,1019.6 407.1,1026.7 410.2,1029.8 C413.0,1032.6 415.5,1035.3 418.2,1037.9 C420.9,1040.4 423.6,1042.7 426.3,1045.2 C429.0,1047.8 431.7,1050.5 434.4,1053.2 C437.1,1055.9 439.7,1058.7 442.4,1061.3 C445.1,1063.8 447.8,1066.2 450.5,1068.5 C453.2,1070.8 455.9,1072.7 458.5,1075.0 C461.2,1077.3 463.9,1080.0 466.6,1082.3 C469.3,1084.5 472.0,1086.7 474.7,1088.7 C477.4,1090.7 480.0,1092.5 482.7,1094.4 C485.4,1096.3 488.0,1098.4 490.8,1100.0 C493.4,1101.6 496.3,1103.2 498.9,1104.0 C501.0,1104.7 502.8,1104.9 505.0,1105.0 C507.5,1105.1 510.5,1105.3 513.1,1104.6 C515.9,1103.8 518.5,1101.8 521.1,1100.2 C523.8,1098.5 526.5,1096.5 529.2,1094.5 C531.9,1092.5 534.7,1090.5 537.3,1088.1 C540.1,1085.5 542.7,1082.3 545.3,1079.2 C548.1,1075.9 550.6,1072.0 553.4,1068.7 C556.0,1065.6 558.7,1062.5 561.5,1059.8 C564.1,1057.2 566.8,1055.0 569.5,1052.6 C572.2,1050.2 574.8,1047.2 577.6,1045.3 C580.2,1043.6 583.0,1042.7 585.6,1041.3 C588.3,1039.8 590.9,1037.9 593.7,1036.5 C596.4,1035.2 599.1,1034.3 601.8,1033.2 C604.5,1032.1 607.1,1031.1 609.8,1030.0 C612.5,1028.9 615.2,1027.9 617.9,1026.8 C620.6,1025.7 623.3,1024.7 626.0,1023.5 C628.7,1022.3 631.1,1020.9 634.0,1019.5 C637.4,1017.9 640.7,1016.4 645.0,1014.7 C651.1,1012.3 659.1,1009.1 667.4,1006.6 C677.6,1003.5 690.3,1000.3 701.9,998.0 C713.4,995.7 725.2,993.4 736.5,992.8 C747.3,992.2 761.2,991.7 768.2,994.0 C772.1,995.3 773.7,998.5 776.6,999.7 C779.3,1000.8 782.3,999.4 785.0,1001.0 C789.0,1003.5 792.3,1016.6 796.3,1016.6 C800.7,1016.6 805.0,1001.1 810.4,996.9 C814.7,993.6 820.0,990.8 824.5,991.3 C829.0,991.8 833.5,1000.3 837.2,999.7 C841.0,999.1 842.5,990.0 847.0,987.0 C852.1,983.6 858.1,983.0 866.8,981.4 C883.0,978.5 912.6,977.3 937.2,975.8 C964.1,974.2 996.4,973.7 1021.7,972.4 C1042.4,971.3 1059.5,970.5 1078.0,968.7 C1096.1,967.0 1116.1,962.3 1131.5,962.0 C1143.2,961.7 1150.6,964.1 1162.5,964.5 C1178.5,965.1 1200.1,964.8 1218.9,964.0 C1237.7,963.2 1255.8,961.0 1275.2,959.7 C1296.0,958.4 1319.9,956.8 1340.0,956.3 C1357.5,955.8 1371.3,955.9 1389.0,956.3 C1410.0,956.8 1444.6,956.7 1458.0,959.5 C1463.8,960.7 1466.0,963.2 1470.0,964.0 C1473.7,964.8 1477.4,964.3 1481.0,964.5 C1484.4,964.7 1487.9,964.1 1491.0,965.0 C1494.2,965.9 1497.5,968.4 1500.0,970.0 C1501.9,971.2 1503.3,971.8 1505.0,973.5 C1507.7,976.2 1510.7,981.4 1513.5,985.6 C1516.4,990.0 1519.4,995.5 1522.2,999.5 C1524.5,1002.8 1526.2,1007.0 1529.0,1008.0 C1531.5,1008.9 1535.1,1008.1 1537.7,1006.4 C1541.1,1004.3 1543.2,997.3 1546.4,994.3 C1549.1,991.8 1551.8,989.0 1555.0,989.0 C1559.1,989.0 1565.0,993.5 1568.8,997.7 C1573.4,1002.7 1575.8,1012.1 1579.2,1018.5 C1582.1,1024.1 1584.9,1029.0 1587.8,1034.0 C1590.6,1038.8 1593.6,1043.4 1596.5,1047.8 C1599.3,1052.0 1602.1,1056.2 1605.1,1060.0 C1607.9,1063.6 1611.0,1067.3 1613.8,1070.3 C1616.2,1072.8 1617.7,1075.2 1620.7,1077.0 C1624.3,1079.2 1630.1,1079.8 1634.6,1081.3 C1638.8,1082.7 1643.2,1086.5 1646.7,1085.7 C1650.1,1084.9 1652.9,1080.9 1655.3,1077.0 C1658.6,1071.5 1660.0,1062.3 1662.2,1054.6 C1664.6,1046.5 1666.6,1038.1 1669.1,1029.6 C1671.8,1020.6 1674.8,1010.8 1677.8,1001.9 C1680.6,993.5 1681.4,982.9 1686.4,977.7 C1690.6,973.3 1697.9,971.3 1703.7,970.8 C1709.4,970.3 1715.4,972.1 1721.0,974.3 C1726.9,976.6 1732.7,980.5 1738.2,984.6 C1744.2,989.0 1750.5,993.8 1755.5,1000.2 C1761.1,1007.4 1764.9,1016.9 1769.3,1026.1 C1774.1,1036.1 1779.0,1047.7 1783.2,1058.0 C1787.0,1067.5 1789.7,1077.5 1793.5,1085.7 C1796.7,1092.8 1799.4,1100.0 1803.9,1104.7 C1807.8,1108.8 1813.8,1111.1 1817.7,1113.3 C1820.4,1114.8 1822.0,1117.0 1824.6,1116.8 C1828.5,1116.5 1834.3,1106.1 1838.5,1106.4 C1842.3,1106.7 1846.0,1112.6 1848.8,1116.8 C1851.9,1121.6 1853.5,1127.7 1855.7,1134.0 C1858.2,1141.3 1860.5,1149.6 1862.7,1158.2 C1865.2,1167.9 1867.3,1178.8 1869.6,1189.3 C1871.9,1200.1 1874.3,1210.7 1876.5,1222.0 C1878.9,1234.2 1880.5,1248.3 1883.4,1260.0 C1885.9,1270.4 1888.7,1288.4 1892.3,1289.0 C1894.7,1289.4 1897.6,1281.5 1900.3,1277.7 C1903.0,1274.0 1905.9,1266.3 1908.4,1266.5 C1911.3,1266.7 1913.7,1276.6 1916.5,1282.6 C1920.0,1290.1 1924.0,1301.4 1927.7,1308.4 C1930.4,1313.6 1933.2,1321.4 1935.8,1321.3 C1938.6,1321.2 1941.6,1312.4 1943.9,1306.8 C1946.7,1299.9 1947.2,1288.6 1950.3,1282.6 C1952.5,1278.3 1956.3,1277.0 1958.4,1272.9 C1961.0,1267.8 1961.7,1261.7 1963.2,1253.5 C1965.7,1239.9 1964.8,1205.7 1969.7,1198.7 C1971.5,1196.2 1974.3,1198.0 1976.1,1195.5 C1980.7,1189.2 1980.1,1165.0 1982.6,1148.7 C1985.4,1130.8 1989.3,1108.5 1992.3,1092.3 C1994.6,1080.0 1996.8,1070.4 1998.7,1060.0 C2000.5,1050.3 2001.1,1040.6 2003.6,1031.9 C2006.0,1023.8 2009.8,1017.0 2013.1,1009.1 C2016.7,1000.6 2020.0,989.2 2024.5,982.5 C2027.9,977.5 2031.4,973.0 2035.9,971.1 C2040.3,969.3 2046.6,972.5 2051.1,971.1 C2055.4,969.8 2058.2,965.9 2062.5,963.5 C2067.5,960.7 2074.3,955.6 2079.6,955.9 C2084.4,956.1 2088.4,960.6 2092.9,963.5 C2097.9,966.8 2103.3,971.9 2108.1,974.9 C2112.1,977.3 2116.5,977.3 2119.5,980.6 C2123.3,984.7 2124.6,992.3 2127.1,999.6 C2130.4,1009.3 2133.5,1022.1 2136.6,1033.8 C2139.8,1046.1 2143.7,1059.8 2146.1,1071.8 C2148.2,1082.4 2149.0,1090.8 2150.7,1102.2 C2152.9,1117.0 2156.0,1138.2 2158.3,1152.9 C2160.1,1164.3 2161.5,1183.3 2163.4,1183.3 C2165.7,1183.3 2168.6,1155.7 2171.0,1140.2 C2173.7,1122.3 2173.7,1092.0 2178.6,1082.0 C2180.7,1077.7 2183.8,1074.1 2186.2,1074.3 C2188.8,1074.5 2190.9,1083.6 2193.8,1084.5 C2196.1,1085.2 2201.4,1082.0 2201.4,1082.0" fill="none" stroke="#0b7430" stroke-width="5.0" stroke-linejoin="round" stroke-linecap="round"/>
<rect x="186.5" y="27.7" width="2016.0" height="1500.0" fill="none" stroke="#000" stroke-width="5.0"/>
<line x1="186.5" y1="1527.7" x2="186.5" y2="1559.5" stroke="#000" stroke-width="4.5"/>
<line x1="470.3" y1="1527.7" x2="470.3" y2="1559.5" stroke="#000" stroke-width="4.5"/>
<line x1="754.1" y1="1527.7" x2="754.1" y2="1559.5" stroke="#000" stroke-width="4.5"/>
<line x1="1037.9" y1="1527.7" x2="1037.9" y2="1559.5" stroke="#000" stroke-width="4.5"/>
<line x1="1321.7" y1="1527.7" x2="1321.7" y2="1559.5" stroke="#000" stroke-width="4.5"/>
<line x1="1605.5" y1="1527.7" x2="1605.5" y2="1559.5" stroke="#000" stroke-width="4.5"/>
<line x1="1889.3" y1="1527.7" x2="1889.3" y2="1559.5" stroke="#000" stroke-width="4.5"/>
<line x1="2173.1" y1="1527.7" x2="2173.1" y2="1559.5" stroke="#000" stroke-width="4.5"/>
<line x1="328.4" y1="1527.7" x2="328.4" y2="1543.5" stroke="#000" stroke-width="4.2"/>
<line x1="612.2" y1="1527.7" x2="612.2" y2="1543.5" stroke="#000" stroke-width="4.2"/>
<line x1="896.0" y1="1527.7" x2="896.0" y2="1543.5" stroke="#000" stroke-width="4.2"/>
<line x1="1179.8" y1="1527.7" x2="1179.8" y2="1543.5" stroke="#000" stroke-width="4.2"/>
<line x1="1463.6" y1="1527.7" x2="1463.6" y2="1543.5" stroke="#000" stroke-width="4.2"/>
<line x1="1747.4" y1="1527.7" x2="1747.4" y2="1543.5" stroke="#000" stroke-width="4.2"/>
<line x1="2031.2" y1="1527.7" x2="2031.2" y2="1543.5" stroke="#000" stroke-width="4.2"/>
<text transform="translate(108.08,1634.64) scale(0.782,0.782)" font-family="'Liberation Serif','Times New Roman',serif" font-size="100" fill="#000">4000</text>
<text transform="translate(390.71,1634.64) scale(0.782,0.782)" font-family="'Liberation Serif','Times New Roman',serif" font-size="100" fill="#000">3500</text>
<text transform="translate(674.51,1634.64) scale(0.782,0.782)" font-family="'Liberation Serif','Times New Roman',serif" font-size="100" fill="#000">3000</text>
<text transform="translate(958.31,1634.64) scale(0.782,0.782)" font-family="'Liberation Serif','Times New Roman',serif" font-size="100" fill="#000">2500</text>
<text transform="translate(1242.11,1634.64) scale(0.782,0.782)" font-family="'Liberation Serif','Times New Roman',serif" font-size="100" fill="#000">2000</text>
<text transform="translate(1525.91,1634.64) scale(0.782,0.782)" font-family="'Liberation Serif','Times New Roman',serif" font-size="100" fill="#000">1500</text>
<text transform="translate(1809.71,1634.64) scale(0.782,0.782)" font-family="'Liberation Serif','Times New Roman',serif" font-size="100" fill="#000">1000</text>
<text transform="translate(2112.67,1634.64) scale(0.782,0.782)" font-family="'Liberation Serif','Times New Roman',serif" font-size="100" fill="#000">500</text>
<text transform="translate(809.20,1797.56) scale(0.9866,0.9718)" font-family="'Liberation Serif','Times New Roman',serif" font-size="100" fill="#000" >Wavenumber / cm</text>
<text transform="translate(1529.30,1752.10) scale(0.6250,0.6250)" font-family="'Liberation Serif','Times New Roman',serif" font-size="100" fill="#000">-</text>
<text transform="translate(1547.88,1751.60) scale(0.6250,0.6250)" font-family="'Liberation Serif','Times New Roman',serif" font-size="100" fill="#000">1</text>
<text transform="translate(101.92,1129.47) rotate(-90) scale(0.9859,0.9896)" font-family="'Liberation Serif','Times New Roman',serif" font-size="100" fill="#000" >Transmittance / %</text>
<text transform="translate(181.52,364.94) scale(0.7800,0.7800)" font-family="'Liberation Serif','Times New Roman',serif" font-size="100" fill="#000000">20°C</text>
<text transform="translate(190.72,570.75) scale(0.7700,0.7750)" font-family="'Liberation Serif','Times New Roman',serif" font-size="100" fill="#d0252c" >200°C</text>
<text transform="translate(186.03,710.26) scale(0.7700,0.7700)" font-family="'Liberation Serif','Times New Roman',serif" font-size="100" fill="#2400a8">400°C</text>
<text transform="translate(192.47,845.55) scale(0.7567,0.7735)" font-family="'Liberation Serif','Times New Roman',serif" font-size="100" fill="#e014e0" >600°C</text>
<text transform="translate(189.94,1057.08) scale(0.7660,0.7618)" font-family="'Liberation Serif','Times New Roman',serif" font-size="100" fill="#0e7e34" >800°C</text>
<text transform="translate(409.64,1431.05) rotate(-90) scale(0.8503,0.8806)" font-family="'Liberation Serif','Times New Roman',serif" font-size="100" fill="#000" >3640</text>
<text transform="translate(521.44,1447.77) rotate(-90) scale(0.8534,0.8806)" font-family="'Liberation Serif','Times New Roman',serif" font-size="100" fill="#000" >3440</text>
<text transform="translate(1551.24,1339.26) rotate(-90) scale(0.8401,0.8294)" font-family="'Liberation Serif','Times New Roman',serif" font-size="100" fill="#000" >1640</text>
<text transform="translate(1690.12,1368.79) rotate(-90) scale(0.8096,0.8791)" font-family="'Liberation Serif','Times New Roman',serif" font-size="100" fill="#000" >1433</text>
<text transform="translate(1964.03,1502.60) rotate(-90) scale(0.8336,0.8851)" font-family="'Liberation Serif','Times New Roman',serif" font-size="100" fill="#000" >920</text>
</svg>
</body></html>
